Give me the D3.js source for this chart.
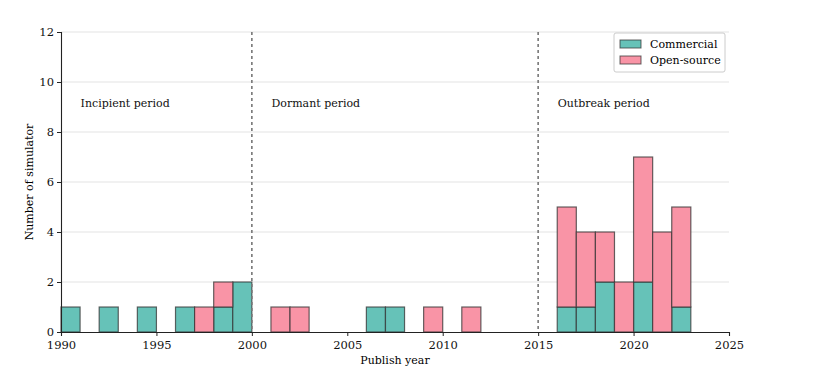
<!doctype html>
<html>
<head>
<script src="https://d3js.org/d3.v7.min.js"></script>
<style>
  body { margin: 0; background: #fff; }
  text { font-family: "DejaVu Serif", serif; }
</style>
</head>
<body>
<script>
// bin start years (1-year bins)
var years = [1990, 1992, 1994, 1996, 1997, 1998, 1999, 2001, 2002, 2006, 2007, 2009, 2011,
             2016, 2017, 2018, 2019, 2020, 2021, 2022];
var commercial = [1, 1, 1, 1, 0, 1, 2, 0, 0, 1, 1, 0, 0, 1, 1, 2, 0, 2, 0, 1];
var openSource = [0, 0, 0, 0, 1, 1, 0, 1, 1, 0, 0, 1, 1, 4, 3, 2, 2, 5, 4, 4];
var xTicks = [1990, 1995, 2000, 2005, 2010, 2015, 2020, 2025];
var yTicks = [0, 2, 4, 6, 8, 10, 12];
var periods = [{name: "Incipient period", x: 1991}, {name: "Dormant period", x: 2001}, {name: "Outbreak period", x: 2016}];
var boundaries = [2000, 2015];

var svg = d3.select("body").append("svg")
    .attr("width", 831)
    .attr("height", 376);

var x = d3.scaleLinear().domain([1990, 2025]).range([61, 729]);
var y = d3.scaleLinear().domain([0, 12]).range([332, 32]);

var colC = "#66c2b8", colO = "#f994a6";

// grid
svg.append("g").selectAll("line")
    .data(yTicks.filter(function(d) { return d > 0; }))
    .enter().append("line")
    .attr("x1", x(1990)).attr("x2", x(2025))
    .attr("y1", function(d) { return y(d); })
    .attr("y2", function(d) { return y(d); })
    .attr("stroke", "#dcdcdc").attr("stroke-width", 0.8);

var data = years.map(function(yr, i) { return {year: yr, c: commercial[i], o: openSource[i]}; });

// commercial bars
svg.append("g").selectAll("rect")
    .data(data.filter(function(d) { return d.c > 0; }))
    .enter().append("rect")
    .attr("x", function(d) { return x(d.year); })
    .attr("width", function(d) { return x(d.year + 1) - x(d.year); })
    .attr("y", function(d) { return y(d.c); })
    .attr("height", function(d) { return y(0) - y(d.c); })
    .attr("fill", colC)
    .attr("stroke", "#333").attr("stroke-opacity", 0.75).attr("stroke-width", 1.2);

// open-source bars stacked on top
svg.append("g").selectAll("rect")
    .data(data.filter(function(d) { return d.o > 0; }))
    .enter().append("rect")
    .attr("x", function(d) { return x(d.year); })
    .attr("width", function(d) { return x(d.year + 1) - x(d.year); })
    .attr("y", function(d) { return y(d.c + d.o); })
    .attr("height", function(d) { return y(d.c) - y(d.c + d.o); })
    .attr("fill", colO)
    .attr("stroke", "#333").attr("stroke-opacity", 0.75).attr("stroke-width", 1.2);

// period boundaries
svg.append("g").selectAll("line")
    .data(boundaries)
    .enter().append("line")
    .attr("x1", function(d) { return x(d); }).attr("x2", function(d) { return x(d); })
    .attr("y1", y(12)).attr("y2", y(0))
    .attr("stroke", "#777").attr("stroke-width", 1.6)
    .attr("stroke-dasharray", "3,3");

// period labels
svg.append("g").selectAll("text")
    .data(periods)
    .enter().append("text")
    .attr("x", function(d) { return x(d.x) + 0.5; })
    .attr("y", y(9))
    .attr("font-size", 11)
    .attr("fill", "#111")
    .text(function(d) { return d.name; });

// axes
var xAxis = svg.append("g")
    .attr("transform", "translate(0," + y(0) + ")")
    .call(d3.axisBottom(x).tickValues(xTicks).tickFormat(d3.format("d")).tickSize(4));
var yAxis = svg.append("g")
    .attr("transform", "translate(" + x(1990) + ",0)")
    .call(d3.axisLeft(y).tickValues(yTicks).tickSize(4));
[xAxis, yAxis].forEach(function(a) {
    a.select(".domain").attr("stroke", "#222").attr("stroke-width", 1.1);
    a.selectAll(".tick line").attr("stroke", "#222");
    a.selectAll(".tick text").attr("font-family", "DejaVu Serif").attr("font-size", 11.5).attr("fill", "#111");
});
xAxis.selectAll(".tick text").attr("dy", "0.9em");

svg.append("text")
    .attr("x", (x(1990) + x(2025)) / 2).attr("y", 364)
    .attr("text-anchor", "middle").attr("font-size", 11)
    .text("Publish year");
svg.append("text")
    .attr("transform", "translate(33," + y(6) + ") rotate(-90)")
    .attr("text-anchor", "middle").attr("font-size", 11)
    .text("Number of simulator");

// legend
var lg = svg.append("g").attr("transform", "translate(614,33)");
lg.append("rect").attr("width", 111).attr("height", 39).attr("rx", 2)
    .attr("fill", "#fff").attr("fill-opacity", 0.8).attr("stroke", "#ccc");
var items = [{name: "Commercial", col: colC}, {name: "Open-source", col: colO}];
items.forEach(function(it, i) {
    lg.append("rect").attr("x", 6).attr("y", 7 + i * 16).attr("width", 21).attr("height", 8)
        .attr("fill", it.col).attr("stroke", "#333").attr("stroke-opacity", 0.75);
    lg.append("text").attr("x", 36).attr("y", 15 + i * 16).attr("font-size", 11).text(it.name);
});
</script>
</body>
</html>
